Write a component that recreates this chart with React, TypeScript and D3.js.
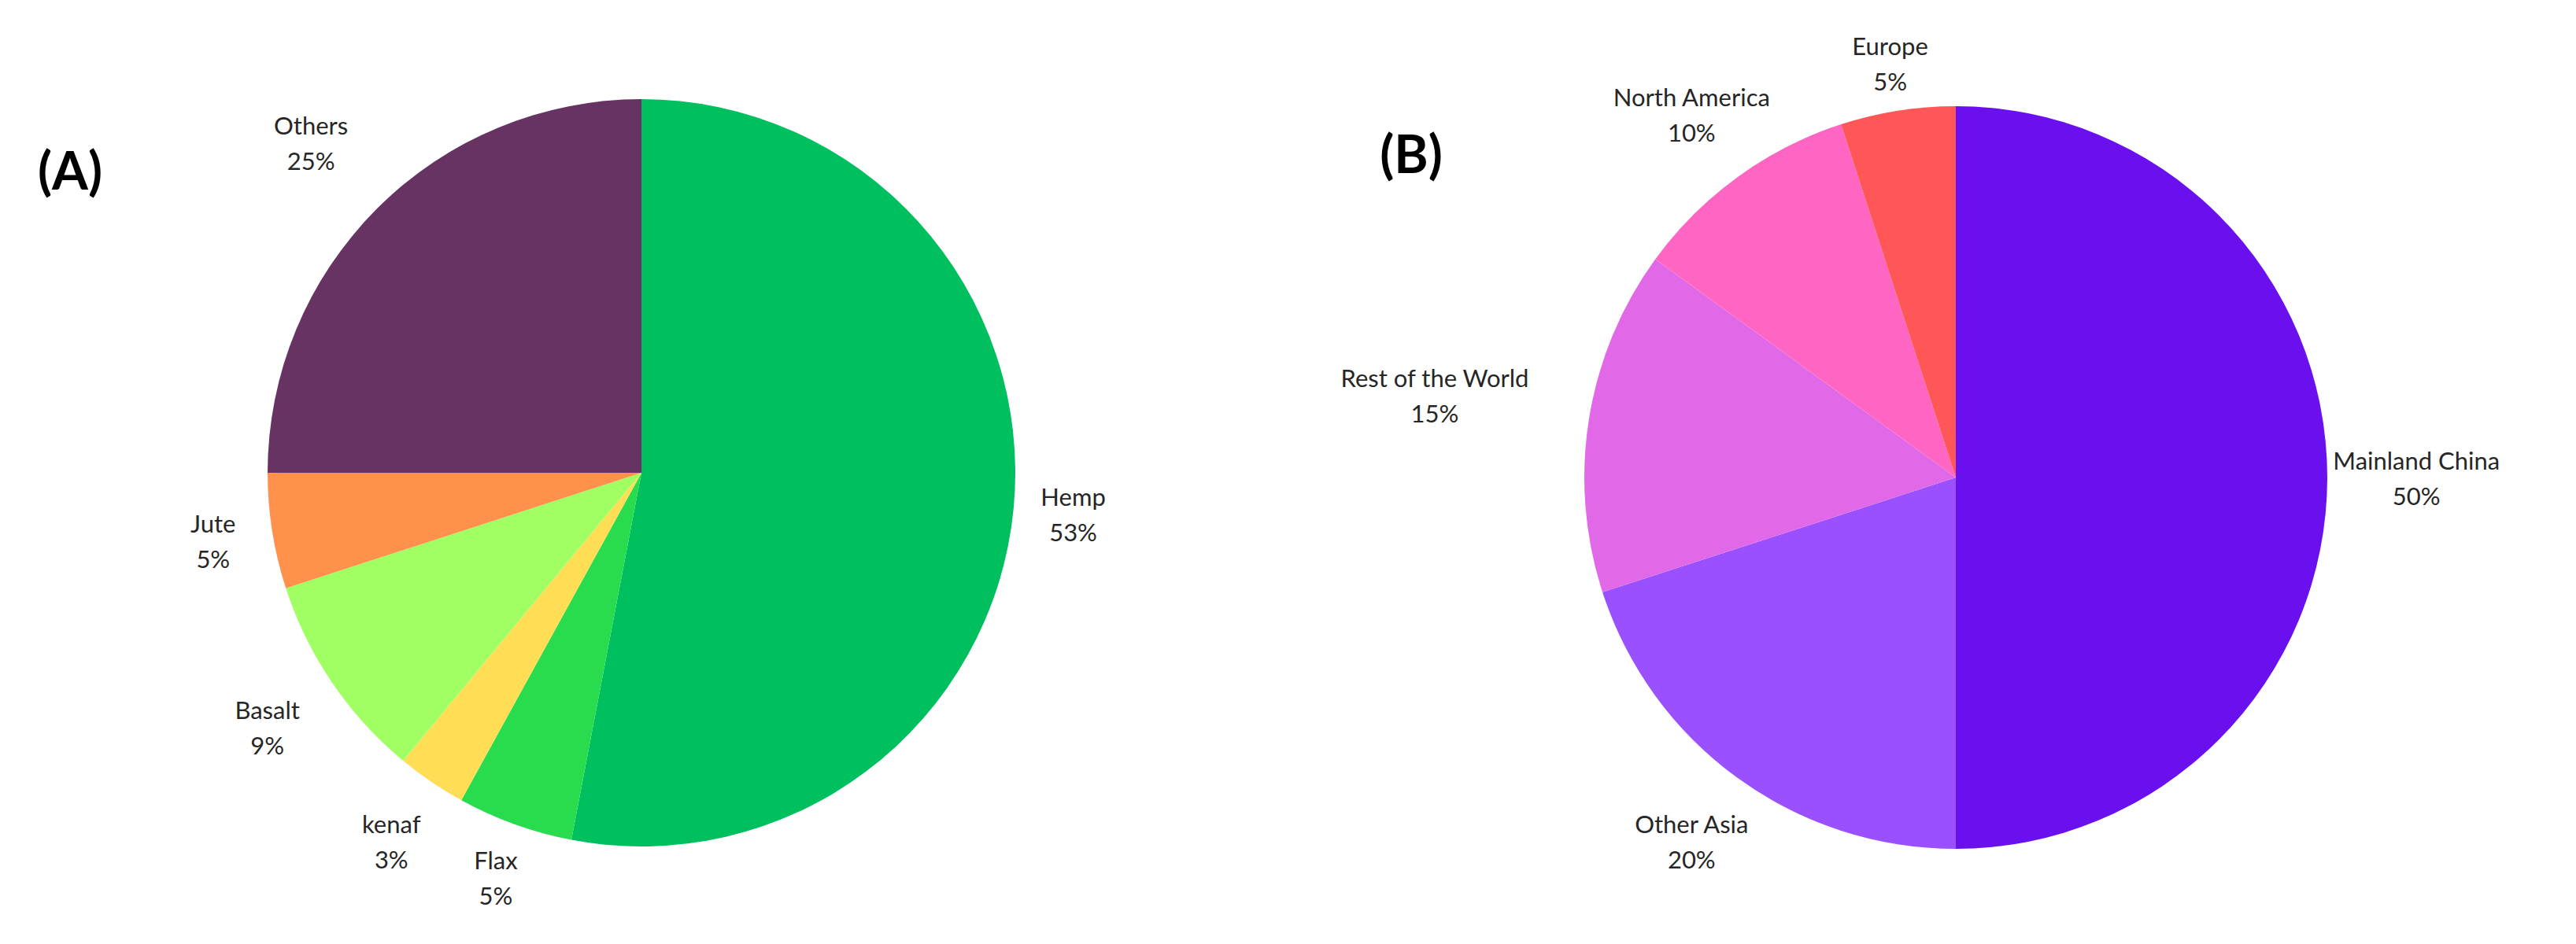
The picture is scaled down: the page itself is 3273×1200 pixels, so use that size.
import React, { useEffect, useRef } from 'react';
import * as d3 from 'd3';

// (A) fibre types
const materials = ['Hemp', 'Flax', 'kenaf', 'Basalt', 'Jute', 'Others'];
const materialShare = [53, 5, 3, 9, 5, 25];
const materialColors = ['#00bf5e', '#28dc4e', '#ffde55', '#a0ff62', '#ff914d', '#673363'];

// (B) regions
const regions = ['Mainland China', 'Other Asia', 'Rest of the World', 'North America', 'Europe'];
const regionShare = [50, 20, 15, 10, 5];
const regionColors = ['#6a10ee', '#9b50ff', '#e169e8', '#ff66c4', '#ff5757'];

// label distance from centre, as a multiple of the radius
const labelRadiusA = [1.16, 1.15, 1.19, 1.21, 1.16, 1.25];
const labelRadiusB = [1.24, 1.21, 1.42, 1.21, 1.13];

const W = 3273, H = 1200;

type Slice = { name: string; value: number; color: string; lr: number };

function drawPie(svg: any, cx: number, cy: number, r: number, tag: string, tagX: number, tagY: number, slices: Slice[]) {
    const g = svg.append('g').attr('transform', `translate(${cx},${cy})`);
    const pie = d3.pie<Slice>().sort(null).value(d => d.value);
    const arcs = pie(slices);
    const arc = d3.arc<any>().innerRadius(0).outerRadius(r);

    g.selectAll('path.slice')
        .data(arcs)
        .enter()
        .append('path')
        .attr('class', 'slice')
        .attr('d', arc)
        .attr('fill', (d: any) => d.data.color);

    // labels: name + percent, placed on the slice mid angle
    const lbl = g.selectAll('g.lbl')
        .data(arcs)
        .enter()
        .append('g')
        .attr('class', 'lbl')
        .attr('transform', (d: any) => {
            const la = d3.arc<any>().innerRadius(r * d.data.lr).outerRadius(r * d.data.lr);
            const [x, y] = la.centroid(d);
            return `translate(${x},${y})`;
        })
        .attr('font-family', 'Lato, sans-serif')
        .attr('font-size', 31)
        .attr('fill', '#262626')
        .attr('text-anchor', 'middle');

    lbl.append('text')
        .attr('y', -22)
        .attr('dominant-baseline', 'central')
        .text((d: any) => d.data.name);
    lbl.append('text')
        .attr('y', 23)
        .attr('dominant-baseline', 'central')
        .text((d: any) => d3.format('.0f')(d.data.value) + '%');

    svg.append('text')
        .attr('x', tagX)
        .attr('y', tagY)
        .attr('text-anchor', 'middle')
        .attr('dominant-baseline', 'central')
        .attr('font-family', 'Lato, sans-serif')
        .attr('font-weight', 'bold')
        .attr('font-size', 66)
        .attr('fill', '#000')
        .text(tag);
}

export default function App() {
    const ref = useRef<HTMLDivElement>(null);

    useEffect(() => {
        const root = d3.select(ref.current);
        root.selectAll('*').remove();
        const svg = root.append('svg')
            .attr('width', W)
            .attr('height', H)
            .style('position', 'absolute')
            .style('left', 0)
            .style('top', 0)
            .style('background', '#fff');

        const a: Slice[] = materials.map((m, i) => ({ name: m, value: materialShare[i], color: materialColors[i], lr: labelRadiusA[i] }));
        const b: Slice[] = regions.map((m, i) => ({ name: m, value: regionShare[i], color: regionColors[i], lr: labelRadiusB[i] }));

        drawPie(svg, 815, 601, 475, '(A)', 89, 215, a);
        drawPie(svg, 2485, 607, 472, '(B)', 1793, 194, b);
    }, []);

    return <div ref={ref}></div>;
}
